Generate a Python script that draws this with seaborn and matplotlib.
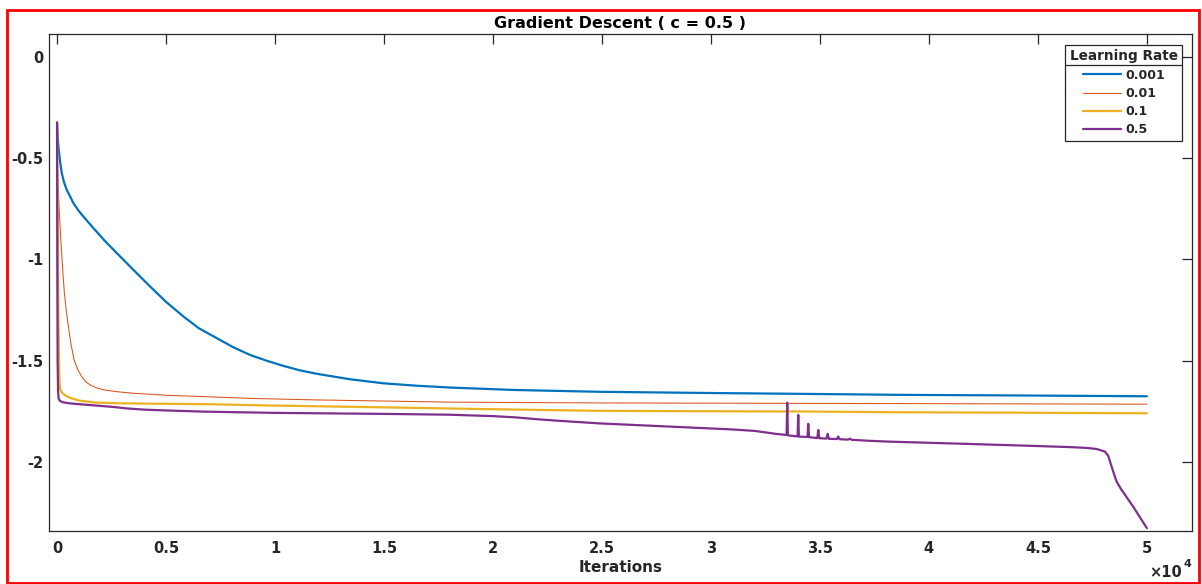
import numpy as np
import pandas as pd
import matplotlib
matplotlib.use("Agg")
import matplotlib.pyplot as plt
from matplotlib.ticker import FuncFormatter
from matplotlib.patches import Rectangle
from matplotlib.lines import Line2D
import seaborn as sns

# ---- data: objective value vs. iteration for each learning rate ----
x_lr0001 = [0, 20, 61, 130, 214, 320, 443, 600, 749, 1000, 1208, 1667, 2200, 2737,
            3500, 4266, 5000, 5795, 6500, 7324, 8100, 8853, 9600, 10382, 11100,
            11911, 13440, 14969, 16500, 18028, 21000, 24908, 30000, 34083, 38670,
            44000, 50000]
y_lr0001 = [-0.325, -0.38, -0.443, -0.51, -0.574, -0.62, -0.657, -0.69, -0.723,
            -0.762, -0.789, -0.846, -0.91, -0.969, -1.052, -1.134, -1.21, -1.282,
            -1.34, -1.389, -1.435, -1.472, -1.50, -1.526, -1.547, -1.565, -1.592,
            -1.612, -1.624, -1.633, -1.645, -1.654, -1.660, -1.664, -1.669, -1.672,
            -1.676]

x_lr001 = [0, 8, 15, 35, 61, 100, 138, 180, 229, 280, 336, 420, 520, 640, 780, 950,
           1131, 1300, 1514, 1800, 2125, 2700, 3500, 5000, 6560, 9000, 11911, 18028,
           25000, 34000, 42000, 50000]
y_lr001 = [-0.325, -0.42, -0.509, -0.60, -0.673, -0.76, -0.838, -0.92, -1.00, -1.085,
           -1.167, -1.25, -1.332, -1.42, -1.496, -1.545, -1.579, -1.603, -1.62,
           -1.634, -1.644, -1.653, -1.661, -1.671, -1.677, -1.687, -1.694, -1.705,
           -1.709, -1.711, -1.713, -1.715]

x_lr01 = [0, 30, 60, 90, 115, 140, 200, 350, 600, 1000, 1743, 3000, 6789, 10000,
          15734, 20000, 24908, 30000, 34083, 38670, 44000, 50000]
y_lr01 = [-0.325, -0.80, -1.25, -1.52, -1.61, -1.64, -1.655, -1.67, -1.684, -1.697,
          -1.707, -1.711, -1.715, -1.722, -1.732, -1.740, -1.748, -1.750, -1.751,
          -1.755, -1.757, -1.760]

x_lr05 = [0, 10, 25, 45, 70, 120, 250, 500, 1000, 1700, 2500, 3200, 4000, 5000, 6789,
          10000, 15000, 18000, 20000, 21000, 22000, 23000, 24908, 27966, 31023,
          32000, 32553, 33000, 33470,
          33500, 33530,
          33975, 34005, 34035,
          34430, 34465, 34500,
          34880, 34924, 34970,
          35300, 35355, 35410,
          35780, 35840, 35900,
          36300, 36376, 36450,
          36800, 37300, 38211, 41728, 44786, 46500, 47232, 47690, 48074, 48226,
          48335, 48456, 48609, 48838, 49373, 50000]
y_lr05 = [-0.325, -1.00, -1.50, -1.65, -1.685, -1.698, -1.705, -1.710, -1.715, -1.721,
          -1.728, -1.736, -1.742, -1.746, -1.752, -1.758, -1.763, -1.767, -1.774,
          -1.780, -1.789, -1.797, -1.810, -1.825, -1.840, -1.847, -1.855, -1.862,
          -1.867,
          -1.708, -1.869,
          -1.874, -1.768, -1.875,
          -1.877, -1.812, -1.878,
          -1.882, -1.842, -1.883,
          -1.885, -1.861, -1.886,
          -1.887, -1.875, -1.888,
          -1.890, -1.885, -1.891,
          -1.893, -1.896, -1.900, -1.911, -1.921, -1.927, -1.931, -1.936, -1.949,
          -1.970, -2.007, -2.048, -2.097, -2.138, -2.221, -2.327]

rate_labels = ["0.001", "0.01", "0.1", "0.5"]
series_x = [x_lr0001, x_lr001, x_lr01, x_lr05]
series_y = [y_lr0001, y_lr001, y_lr01, y_lr05]
line_colors = ["#0072BD", "#D95319", "#EDB120", "#7E2F8E"]
line_widths = [1.6, 0.75, 1.6, 1.6]

df = pd.concat(
    [pd.DataFrame({"Iterations": xs, "Objective": ys, "Learning Rate": lab})
     for xs, ys, lab in zip(series_x, series_y, rate_labels)],
    ignore_index=True,
)

# ---- styling ----
sns.set_theme(style="white")
plt.rcParams["font.family"] = ["DejaVu Sans"]
plt.rcParams["font.weight"] = "bold"
plt.rcParams["axes.titleweight"] = "bold"
plt.rcParams["axes.labelweight"] = "bold"
plt.rcParams["axes.unicode_minus"] = False

fig = plt.figure(figsize=(12.02, 5.84), dpi=100)
ax = fig.add_axes([49 / 1202, 1 - 531 / 584, (1192 - 49) / 1202, (531 - 34) / 584])

for lab, col, lw in zip(rate_labels, line_colors, line_widths):
    sns.lineplot(data=df[df["Learning Rate"] == lab], x="Iterations", y="Objective",
                 color=col, linewidth=lw, estimator=None, sort=False,
                 legend=False, ax=ax)

ax.set_xlim(-370, 52070)
ax.set_ylim(-2.341, 0.112)
ax.set_xticks(np.arange(0, 50001, 5000))
ax.set_yticks([-2, -1.5, -1, -0.5, 0])
ax.xaxis.set_major_formatter(FuncFormatter(lambda v, _: f"{v / 1e4:g}"))
ax.yaxis.set_major_formatter(FuncFormatter(lambda v, _: f"{v:g}"))

for side in ["top", "bottom", "left", "right"]:
    ax.spines[side].set_visible(True)
    ax.spines[side].set_color("#262626")
    ax.spines[side].set_linewidth(0.9)

ax.tick_params(axis="both", direction="in", length=7.5, width=0.9, color="#262626",
               top=True, right=True, labelsize=10.5, labelcolor="#262626")
ax.tick_params(axis="x", pad=7)
ax.tick_params(axis="y", pad=4)

ax.set_title("Gradient Descent ( c = 0.5 )", fontsize=11.5, pad=4.5, color="#000000")
ax.set_xlabel("Iterations", fontsize=11, labelpad=3, color="#262626")
ax.set_ylabel("")

# exponent marker for the x axis
fig.text(1182 / 1202, 1 - 577 / 584, "\u00d710", fontsize=10.5, ha="right",
         va="baseline", color="#262626")
fig.text(1183 / 1202, 1 - 567 / 584, "4", fontsize=8, ha="left",
         va="baseline", color="#262626")

# legend
handles = [Line2D([0], [0], color=c, linewidth=lw) for c, lw in zip(line_colors, line_widths)]
leg = ax.legend(handles, rate_labels, title="Learning Rate", loc="upper right",
                bbox_to_anchor=(1182 / 1202, 1 - 45 / 584),
                bbox_transform=fig.transFigure, fontsize=9,
                title_fontproperties={"weight": "bold", "size": 9.8},
                frameon=True, fancybox=False, framealpha=1, edgecolor="#262626",
                handlelength=3.1, handletextpad=0.3, labelspacing=0.42,
                borderpad=0.35, borderaxespad=0)
leg.get_frame().set_linewidth(0.9)
for t in leg.get_texts():
    t.set_fontweight("bold")

# separator line below the legend title
fig.canvas.draw()
lbb = leg.get_window_extent()
tbb = leg.get_title().get_window_extent()
ysep = tbb.y0 - 2
fig.add_artist(Line2D([lbb.x0, lbb.x1], [ysep, ysep], transform=None,
                      color="#262626", linewidth=0.9))

# red frame around the figure
fig.add_artist(Rectangle((7 / 1202, 1 - 582.5 / 584), (1199 - 7) / 1202,
                         (582.5 - 10) / 584, transform=fig.transFigure,
                         fill=False, edgecolor="#FF0000", linewidth=2))

fig.savefig("out.png", dpi=100)
